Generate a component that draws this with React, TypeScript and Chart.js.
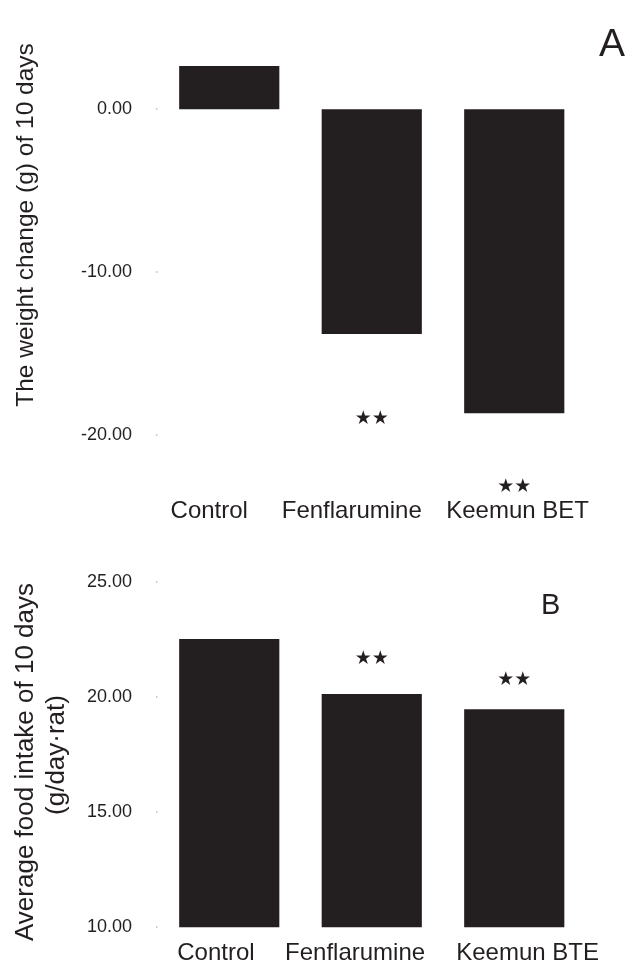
import React, { useEffect, useRef } from "react";
import { Chart, registerables } from "chart.js";
Chart.register(...registerables);

// ---- Data ----
const categoriesA = ["Control", "Fenflarumine", "Keemun BET"];
const weightChange = [2.66, -13.79, -18.65];
const starValuesA: (number | null)[] = [null, -19.0, -23.2];
const yTicksA = [0, -10, -20];

const categoriesB = ["Control", "Fenflarumine", "Keemun BTE"];
const foodIntake = [22.51, 20.13, 19.46];
const starValuesB: (number | null)[] = [null, 21.63, 20.73];
const yTicksB = [10, 15, 20, 25];

const FONT = "'Liberation Sans', Arial, Helvetica, sans-serif";
const INK = "#231f20";

type TitleLine = { text: string; bx: number; cy: number; size: number };

interface PanelOpts {
  width: number;
  height: number;
  categories: string[];
  values: number[];
  stars: (number | null)[];
  yTicks: number[];
  yMin: number;
  yMax: number;
  padTop: number;
  xAxisHeight: number;
  xLabelPadding: number;
  labelShift: number[];
  titles: TitleLine[];
  letter: { text: string; x: number; y: number; size: number };
}

function padLabel(label: string, shift: number): string {
  const n = Math.round(Math.abs(shift) / 3.33);
  const sp = " ".repeat(n);
  return shift < 0 ? label + sp : sp + label;
}

function makePlugin(o: PanelOpts) {
  return {
    id: "panelDecor",
    afterDraw(chart: any) {
      const ctx = chart.ctx as CanvasRenderingContext2D;
      const xs = chart.scales.x;
      const ys = chart.scales.y;
      const area = chart.chartArea;
      ctx.save();
      // tiny tick marks
      ctx.fillStyle = "#9a9a9a";
      o.yTicks.forEach((t) => {
        const py = ys.getPixelForValue(t);
        ctx.fillRect(area.left - 2, Math.round(py) - 0.5, 1.5, 1);
      });
      // significance stars
      ctx.fillStyle = INK;
      ctx.font = "19px 'DejaVu Sans', sans-serif";
      ctx.textAlign = "center";
      ctx.textBaseline = "middle";
      o.stars.forEach((v, i) => {
        if (v === null) return;
        ctx.fillText("★★", xs.getPixelForValue(i), ys.getPixelForValue(v));
      });
      // axis titles
      o.titles.forEach((t) => {
        ctx.save();
        ctx.translate(t.bx, t.cy);
        ctx.rotate(-Math.PI / 2);
        ctx.font = `${t.size}px ${FONT}`;
        ctx.textAlign = "center";
        ctx.textBaseline = "alphabetic";
        ctx.fillText(t.text, 0, 0);
        ctx.restore();
      });
      // panel letter
      ctx.font = `${o.letter.size}px ${FONT}`;
      ctx.textAlign = "center";
      ctx.textBaseline = "alphabetic";
      ctx.fillText(o.letter.text, o.letter.x, o.letter.y);
      ctx.restore();
    },
  };
}

function Panel(o: PanelOpts) {
  const ref = useRef<HTMLCanvasElement | null>(null);
  useEffect(() => {
    if (!ref.current) return;
    const chart = new Chart(ref.current, {
      type: "bar",
      data: {
        labels: o.categories,
        datasets: [
          {
            data: o.values,
            backgroundColor: INK,
            borderWidth: 0,
            barPercentage: 0.703,
            categoryPercentage: 1,
            clip: 0,
          } as any,
        ],
      },
      options: {
        responsive: false,
        animation: false,
        devicePixelRatio: 1,
        layout: { padding: { top: o.padTop, right: 41.5, left: 0, bottom: 0 } },
        plugins: { legend: { display: false }, tooltip: { enabled: false }, title: { display: false } },
        scales: {
          x: {
            grid: { display: false, drawTicks: false },
            border: { display: false },
            ticks: {
              color: INK,
              font: { family: FONT, size: 24 },
              padding: o.xLabelPadding,
              maxRotation: 0,
              autoSkip: false,
              callback: (_v: any, i: number) => padLabel(o.categories[i], o.labelShift[i]),
            },
            afterFit: (s: any) => {
              s.height = o.xAxisHeight;
            },
          },
          y: {
            min: o.yMin,
            max: o.yMax,
            grid: { display: false, drawTicks: false },
            border: { display: false },
            ticks: {
              color: INK,
              font: { family: FONT, size: 18 },
              padding: 26,
              callback: (v: any) => Number(v).toFixed(2),
            },
            afterBuildTicks: (s: any) => {
              s.ticks = o.yTicks.map((v) => ({ value: v }));
            },
            afterFit: (s: any) => {
              s.width = 158;
            },
          },
        },
      },
      plugins: [makePlugin(o)],
    } as any);
    return () => chart.destroy();
  }, []);
  return (
    <canvas
      ref={ref}
      width={o.width}
      height={o.height}
      style={{ display: "block", width: o.width, height: o.height }}
    />
  );
}

export default function App() {
  return (
    <div style={{ position: "absolute", left: 0, top: 0, width: 627, height: 965, background: "#fff" }}>
      <Panel
        width={627}
        height={540}
        categories={categoriesA}
        values={weightChange}
        stars={starValuesA}
        yTicks={yTicksA}
        yMin={-23}
        yMax={4}
        padTop={44.1}
        xAxisHeight={55.8}
        xLabelPadding={12.7}
        labelShift={[-19, -20, 4]}
        titles={[{ text: "The weight change (g) of 10 days", bx: 32.5, cy: 225, size: 24.5 }]}
        letter={{ text: "A", x: 612, y: 55.7, size: 39 }}
      />
      <Panel
        width={627}
        height={425}
        categories={categoriesB}
        values={foodIntake}
        stars={starValuesB}
        yTicks={yTicksB}
        yMin={10}
        yMax={25}
        padTop={41.7}
        xAxisHeight={37.7}
        xLabelPadding={11.6}
        labelShift={[-13.5, -16.5, 12.5]}
        titles={[
          { text: "Average food intake of 10 days", bx: 33, cy: 222, size: 26 },
          { text: "(g/day·rat)", bx: 63.5, cy: 215, size: 26 },
        ]}
        letter={{ text: "B", x: 550.7, y: 74, size: 29 }}
      />
    </div>
  );
}
